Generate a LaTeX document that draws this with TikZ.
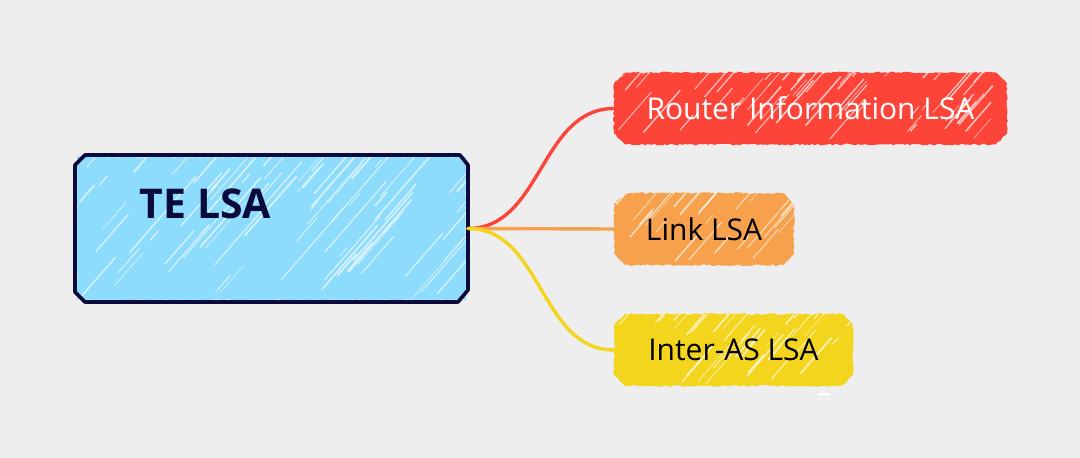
\documentclass[tikz,border=0pt]{standalone}
\usepackage{fontspec}
\setmainfont{Open Sans}
\usetikzlibrary{calc,decorations.pathmorphing,shapes.misc}
\definecolor{bgcol}{HTML}{EEEEEE}
\definecolor{teblue}{HTML}{8EDCFB}
\definecolor{navy}{HTML}{0A0A3C}
\definecolor{routerred}{HTML}{FC4438}
\definecolor{linkorange}{HTML}{F7A14C}
\definecolor{asyellow}{HTML}{F3D51D}
\tikzset{
	hatching/.style n args={3}{path picture={
		\foreach \i in {1,...,#3}{
			\pgfmathsetmacro\hx{rand*#1/2}
			\pgfmathsetmacro\hy{rand*#2/2}
			\pgfmathsetmacro\hl{6+rnd*0.45*#2}
			\pgfmathsetmacro\hw{0.5+rnd*1.3}
			\draw[white,opacity=0.65,line width=\hw pt] ($(path picture bounding box.center)+(\hx,\hy)$) -- +(\hl,-1.15*\hl);
		}
	}},
	roughfill/.style={preaction={fill=#1,decorate,decoration={random steps,segment length=2.5pt,amplitude=0.9pt}}},
	cutbox/.style={chamfered rectangle,chamfered rectangle corners=chamfer all,chamfered rectangle sep=#1,inner sep=0pt,outer sep=0pt},
	leafbox/.style n args={4}{cutbox=5.5pt,minimum width=#2,minimum height=#3,roughfill=#1,hatching={#2}{#3}{#4},font=\fontsize{30}{34}\selectfont},
	branch/.style={line width=3.4pt,line cap=round}
}
\begin{document}
\begin{tikzpicture}[x=1pt,y=-1pt]
	\pgfmathsetseed{4217}
	\fill[bgcol] (0,0) rectangle (1080,458);
	\useasboundingbox (0,0) rectangle (1080,458);
	\node[cutbox=7pt,minimum width=389pt,minimum height=143pt,roughfill=teblue,hatching={389}{143}{75}] (te) at (271.5,228.5) {};
	\draw[navy,line width=3.6pt,line join=round] ($(te.north west)+(8,-2)$) -- ($(te.north east)+(-6,-2)$) -- ($(te.north east)+(2,8)$) -- ($(te.south east)+(2,-10)$) -- ($(te.south east)+(-8,2)$) -- ($(te.south west)+(8,2)$) -- ($(te.south west)+(-2,-8)$) -- ($(te.north west)+(-2,8)$) -- cycle;
	\node[text=navy,font=\fontsize{41}{46}\selectfont\bfseries,inner sep=0pt] (telabel) at (205.5,204) {TE LSA};
	\node[leafbox={routerred}{393pt}{72pt}{60},text=white] (router) at (810.5,108.5) {Router Information LSA};
	\node[leafbox={linkorange}{180pt}{72pt}{26},text=black] (link) at (704,229) {Link LSA};
	\node[leafbox={asyellow}{239pt}{72pt}{36},text=black] (interas) at (733.5,350) {Inter-AS LSA};
	\draw[branch,routerred] (te.east) ++(2,0) to[out=0,in=180] (router.west);
	\draw[branch,linkorange] (te.east) ++(2,0) -- (link.west);
	\draw[branch,asyellow] (te.east) ++(2,0) to[out=0,in=180] (interas.west);
	\fill[white] (815,395) to[bend left=25] (833,395) -- cycle;
\end{tikzpicture}
\end{document}
